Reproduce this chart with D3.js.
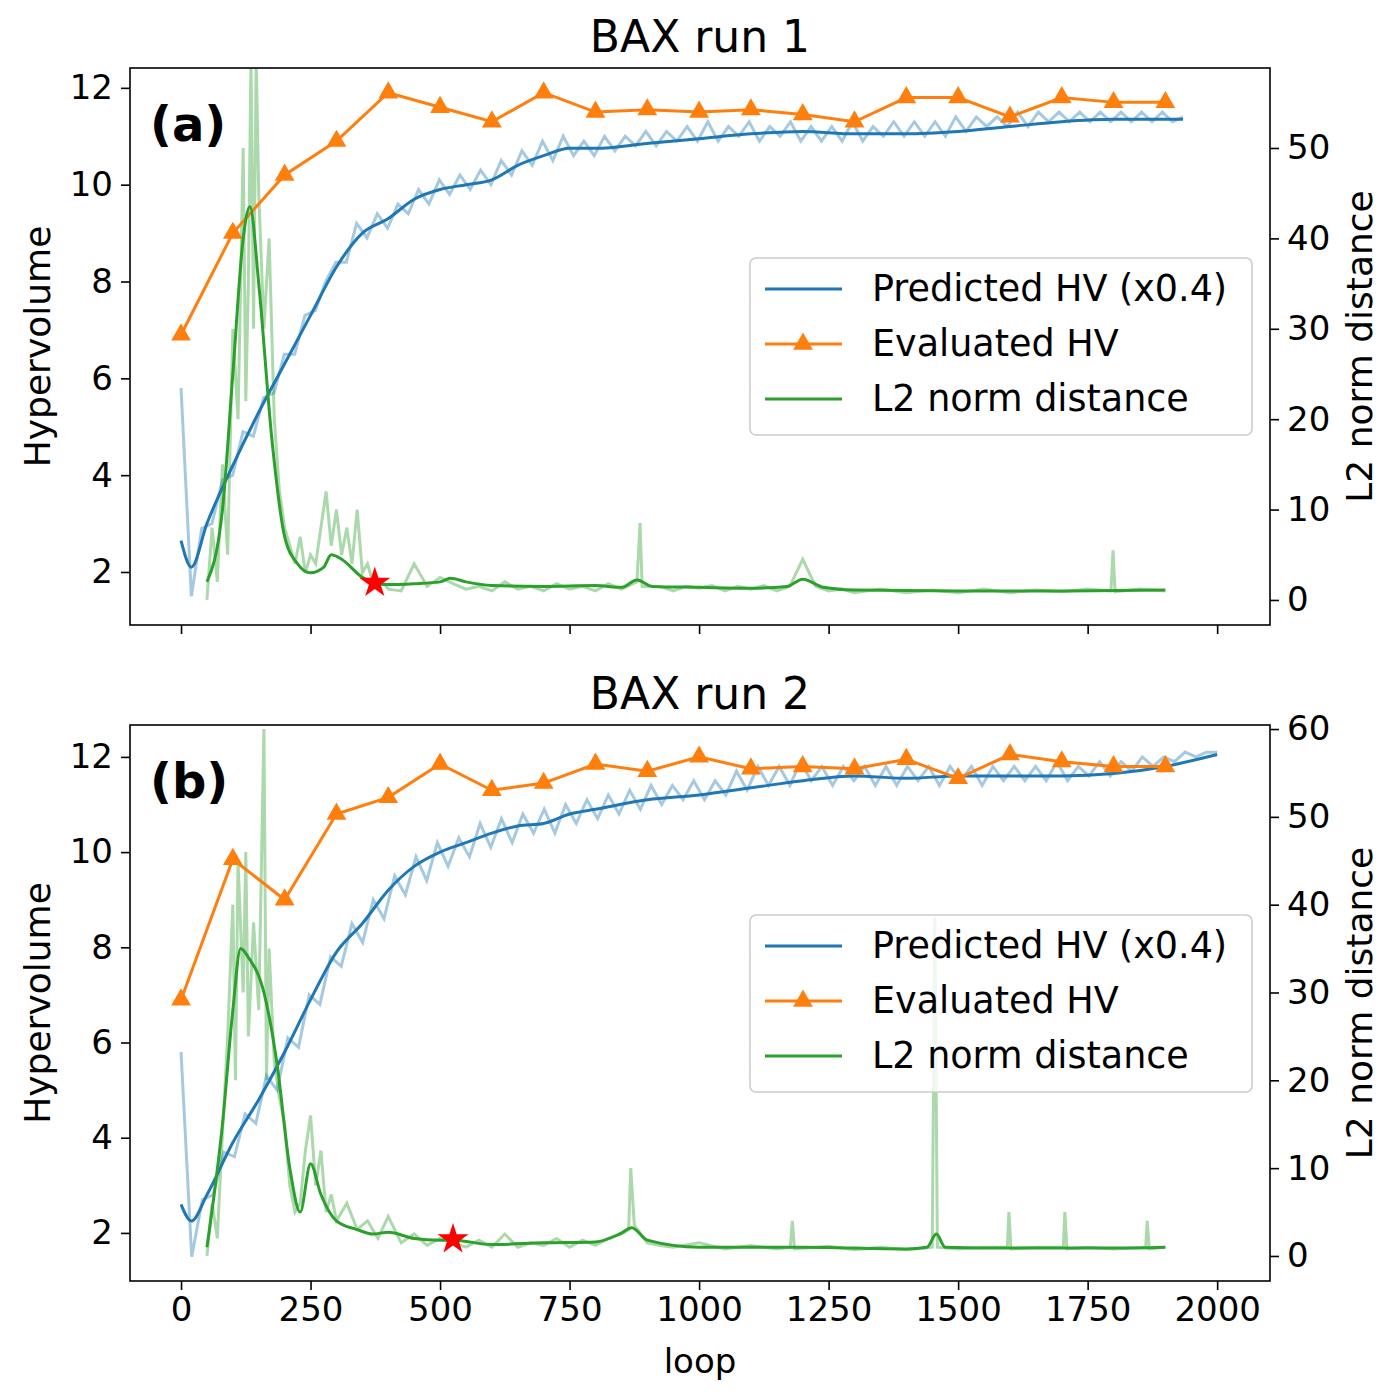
<!DOCTYPE html>
<html><head><meta charset="utf-8">
<script src="https://cdn.jsdelivr.net/npm/d3@7"></script>
<style>body{margin:0;background:#fff}text{font-family:"DejaVu Sans",sans-serif}</style>
</head><body><svg id="c" width="1399" height="1400"></svg>
<script>
// ---------- DATA ----------
const xTicks=[0,250,500,750,1000,1250,1500,1750,2000];
const leftTicks=[2,4,6,8,10,12];
const rightTicksA=[0,10,20,30,40,50];
const rightTicksB=[0,10,20,30,40,50,60];
const evalLoops=[0,100,200,300,400,500,600,700,800,900,1000,1100,1200,1300,1400,1500,1600,1700,1800,1900];
const evalA=[6.9,9.0,10.2,10.9,11.9,11.6,11.3,11.9,11.5,11.55,11.5,11.55,11.45,11.3,11.8,11.8,11.4,11.8,11.7,11.7];
const evalB=[6.9,9.85,9.0,10.8,11.15,11.85,11.3,11.45,11.85,11.7,12.0,11.75,11.8,11.75,11.95,11.55,12.05,11.9,11.8,11.8];
const predSmoothA=[[0,2.65],[20,2.1],[50,3.0],[100,4.2],[150,5.3],[200,6.3],[250,7.3],[300,8.3],[350,9.0],[400,9.3],[450,9.7],[500,9.9],[550,10.0],[600,10.1],[650,10.4],[700,10.6],[750,10.75],[800,10.75],[900,10.85],[1000,10.95],[1100,11.05],[1200,11.1],[1300,11.05],[1400,11.05],[1500,11.1],[1600,11.2],[1700,11.3],[1800,11.35],[1900,11.35],[1934,11.35]];
const predSmoothB=[[0,2.6],[20,2.25],[50,2.8],[100,3.9],[150,4.8],[200,5.8],[250,6.9],[300,7.9],[350,8.5],[400,9.2],[450,9.7],[500,10.0],[550,10.2],[600,10.4],[650,10.55],[700,10.6],[750,10.8],[800,10.9],[900,11.1],[1000,11.2],[1100,11.35],[1200,11.5],[1300,11.6],[1400,11.55],[1500,11.6],[1600,11.6],[1700,11.6],[1800,11.65],[1900,11.8],[2000,12.05]];
const predRawA=[5.8,1.5,2.9,3.0,3.9,4.0,4.9,4.8,5.6,5.7,6.5,6.5,7.3,7.4,8.0,8.4,8.4,9.2,8.9,9.4,9.1,9.6,9.4,9.9,9.6,10.1,9.8,10.2,9.9,10.3,10.0,10.5,10.2,10.7,10.4,10.9,10.5,11.0,10.6,10.9,10.6,11.0,10.7,11.0,10.8,11.1,10.8,11.1,10.9,11.2,10.9,11.3,10.9,11.2,11.0,11.3,10.9,11.2,11.0,11.3,10.9,11.2,10.9,11.2,10.9,11.3,10.9,11.2,11.0,11.3,11.0,11.3,11.0,11.3,11.0,11.4,11.1,11.4,11.2,11.4,11.2,11.5,11.2,11.5,11.3,11.5,11.3,11.5,11.3,11.5,11.3,11.5,11.3,11.5,11.3,11.5,11.3,11.4];
const predRawB=[5.8,1.5,2.7,2.8,3.7,3.6,4.5,4.3,5.3,5.0,6.1,5.9,7.0,6.8,7.8,7.6,8.5,8.1,9.0,8.6,9.5,9.1,9.9,9.4,10.2,9.7,10.3,9.9,10.6,10.1,10.7,10.2,10.8,10.4,10.9,10.4,11.0,10.6,11.1,10.7,11.2,10.8,11.3,10.9,11.4,11.0,11.4,11.1,11.5,11.1,11.5,11.2,11.7,11.3,11.8,11.4,11.8,11.4,11.9,11.5,11.8,11.4,11.8,11.5,11.8,11.4,11.8,11.4,11.8,11.5,11.8,11.4,11.8,11.5,11.8,11.4,11.8,11.5,11.8,11.5,11.8,11.5,11.9,11.5,11.8,11.6,11.9,11.6,11.9,11.7,12.0,11.8,12.0,11.9,12.1,12.0,12.1,12.1];
const l2SmoothA=[[50,2],[80,10],[100,25],[120,40],[133,43.5],[150,35],[175,18],[200,7],[225,4],[250,3],[275,3.6],[290,5],[310,4.5],[350,2.5],[380,1.8],[400,1.7],[450,1.8],[500,2.0],[520,2.4],[550,2.0],[600,1.6],[700,1.5],[800,1.6],[850,1.4],[880,2.2],[910,1.5],[1000,1.4],[1100,1.3],[1170,1.5],[1200,2.3],[1240,1.4],[1300,1.1],[1500,1.0],[1700,1.0],[1900,1.1]];
const l2RawA=[[50,0],[60,8],[70,2],[80,15],[90,5],[100,30],[110,20],[120,50],[125,22],[130,35],[135,60],[140,30],[145,60],[150,45],[160,30],[170,40],[180,20],[190,12],[200,8],[210,6],[220,4],[230,7],[240,3],[250,5],[260,4],[270,8],[280,12],[290,6],[300,10],[310,5],[320,8],[330,4],[340,10],[350,3],[360,4],[370,2],[380,1.5],[390,2],[400,1.2],[425,1.0],[450,4],[475,1.5],[500,2.5],[525,1.8],[550,1.2],[575,1.5],[600,1.0],[625,2],[650,1.2],[675,1.5],[700,1.0],[725,1.8],[750,1.2],[775,1.5],[800,1.0],[825,1.8],[850,1.2],[880,2],[886,8.5],[890,1.5],[925,1.5],[950,1.0],[975,1.5],[1000,1.3],[1025,1.6],[1050,1.0],[1075,1.5],[1100,1.2],[1125,1.6],[1150,1.0],[1175,1.5],[1200,4.5],[1225,1.5],[1250,1.0],[1275,1.2],[1300,0.8],[1350,1.2],[1400,0.8],[1450,1.1],[1500,0.8],[1550,1.2],[1600,0.8],[1650,1.1],[1700,0.9],[1750,1.2],[1795,1],[1799,5.5],[1803,0.9],[1850,1.2],[1900,1.0]];
const l2SmoothB=[[50,1],[80,15],[100,28],[115,35],[130,34],[160,30],[185,22],[210,10],[230,5],[250,10.5],[270,7],[300,4],[340,3],[370,2.5],[400,2.7],[450,2],[500,1.8],[525,1.8],[600,1.3],[700,1.5],[800,1.6],[850,2.6],[870,3.2],[900,1.8],[1000,1.0],[1200,1.0],[1400,0.8],[1440,1.0],[1458,2.5],[1475,1.0],[1600,0.9],[1800,0.9],[1900,1.0]];
const l2RawB=[[50,0],[60,6],[70,2],[80,14],[90,25],[100,40],[105,20],[110,45],[120,30],[125,46],[130,25],[140,38],[150,28],[160,60],[165,20],[170,35],[180,22],[190,18],[200,15],[210,8],[220,5],[230,6],[240,12],[250,16],[260,8],[270,12],[280,5],[290,7],[300,4],[320,6],[340,3],[360,4],[380,2],[400,4.5],[425,1.5],[450,2.5],[475,1.2],[500,2.0],[525,1.5],[550,1.0],[575,1.8],[600,1.0],[625,2.5],[650,1.0],[675,1.5],[700,1.2],[725,2.0],[750,1.0],[775,1.8],[800,1.2],[825,2],[850,2.5],[864,3],[868,10],[875,3.5],[900,1.5],[925,1.2],[950,1.0],[1000,1.5],[1050,0.8],[1100,1.2],[1150,0.8],[1176,1],[1180,4],[1184,0.8],[1250,1.1],[1300,0.7],[1350,1.0],[1400,0.7],[1450,1.0],[1455,38.5],[1460,1.0],[1500,0.8],[1550,1.0],[1595,1],[1598,5],[1602,0.8],[1650,1.0],[1703,1],[1706,5],[1710,0.8],[1750,1.0],[1800,0.8],[1862,1],[1865,4],[1869,0.8],[1900,1.0]];
const starA=[374,1.9], starB=[525,1.9];

// ---------- DRAW ----------
const svg=d3.select("#c");
const C={b:"#1f77b4",o:"#ff7f0e",g:"#2ca02c"};
const X0=130,X1=1270;
const x=d3.scaleLinear().domain([-98.5,2102]).range([X0,X1]);

function panel(top,bot,lDom,rDom,rTicks,evalV,pS,pR,gS,gR,star,title,label,showX){
  const yl=d3.scaleLinear().domain(lDom).range([bot,top]);
  const yr=d3.scaleLinear().domain(rDom).range([bot,top]);
  const g=svg.append("g");
  const cid="clip"+top;
  g.append("clipPath").attr("id",cid).append("rect").attr("x",X0).attr("y",top).attr("width",X1-X0).attr("height",bot-top);
  const pl=g.append("g").attr("clip-path",`url(#${cid})`);
  const rawLoops=pR.map((v,i)=>i*(pS[pS.length-1][0]/(pR.length-1)));
  pl.append("path").datum(pR.map((v,i)=>[rawLoops[i],v])).attr("d",d3.line().x(d=>x(d[0])).y(d=>yl(d[1]))).attr("fill","none").attr("stroke",C.b).attr("stroke-opacity",0.4).attr("stroke-width",3);
  pl.append("path").datum(gR).attr("d",d3.line().x(d=>x(d[0])).y(d=>yr(d[1]))).attr("fill","none").attr("stroke",C.g).attr("stroke-opacity",0.4).attr("stroke-width",3);
  pl.append("path").datum(pS).attr("d",d3.line().curve(d3.curveMonotoneX).x(d=>x(d[0])).y(d=>yl(d[1]))).attr("fill","none").attr("stroke",C.b).attr("stroke-width",3);
  pl.append("path").datum(evalLoops.map((l,i)=>[l,evalV[i]])).attr("d",d3.line().x(d=>x(d[0])).y(d=>yl(d[1]))).attr("fill","none").attr("stroke",C.o).attr("stroke-width",3);
  const tri=d3.symbol().type(d3.symbolTriangle).size(170);
  pl.selectAll(".t").data(evalLoops.map((l,i)=>[l,evalV[i]])).join("path").attr("d",tri).attr("transform",d=>`translate(${x(d[0])},${yl(d[1])})`).attr("fill",C.o);
  pl.append("path").datum(gS).attr("d",d3.line().curve(d3.curveMonotoneX).x(d=>x(d[0])).y(d=>yr(d[1]))).attr("fill","none").attr("stroke",C.g).attr("stroke-width",3);
  pl.append("path").attr("d",d3.symbol().type(d3.symbolStar).size(300)).attr("transform",`translate(${x(star[0])},${yr(star[1])})`).attr("fill","red");
  g.append("rect").attr("x",X0).attr("y",top).attr("width",X1-X0).attr("height",bot-top).attr("fill","none").attr("stroke","#000").attr("stroke-width",1.6);
  const fs="34px";
  const ax=g.append("g").attr("transform",`translate(0,${bot})`).call(d3.axisBottom(x).tickValues(xTicks).tickSize(9).tickPadding(7).tickFormat(showX?d3.format("d"):""));
  const al=g.append("g").attr("transform",`translate(${X0},0)`).call(d3.axisLeft(yl).tickValues(leftTicks).tickSize(9).tickPadding(8));
  const ar=g.append("g").attr("transform",`translate(${X1},0)`).call(d3.axisRight(yr).tickValues(rTicks).tickSize(9).tickPadding(8));
  [ax,al,ar].forEach(a=>{a.select(".domain").remove();a.selectAll("line").attr("stroke-width",1.6);a.selectAll("text").style("font-size",fs).attr("font-family","DejaVu Sans");});
  g.append("text").attr("x",700).attr("y",top-16).attr("text-anchor","middle").style("font-size","44px").text(title);
  g.append("text").attr("x",150).attr("y",top+73).style("font-size","48px").style("font-weight","bold").text(label);
  const mid=(top+bot)/2;
  g.append("text").attr("transform",`translate(50,${mid}) rotate(-90)`).attr("text-anchor","middle").style("font-size","36px").text("Hypervolume");
  g.append("text").attr("transform",`translate(1372,${mid}) rotate(-90)`).attr("text-anchor","middle").style("font-size","36px").text("L2 norm distance");
  const ly=top+190;
  const lg=g.append("g");
  lg.append("rect").attr("x",750).attr("y",ly).attr("width",502).attr("height",177).attr("rx",6).attr("fill","#fff").attr("fill-opacity",0.8).attr("stroke","#ccc").attr("stroke-width",1.6);
  const items=[["Predicted HV (x0.4)",C.b,false],["Evaluated HV",C.o,true],["L2 norm distance",C.g,false]];
  items.forEach((it,i)=>{const yy=ly+31+i*55;
    lg.append("line").attr("x1",765).attr("x2",842).attr("y1",yy).attr("y2",yy).attr("stroke",it[1]).attr("stroke-width",3);
    if(it[2]) lg.append("path").attr("d",tri).attr("transform",`translate(803,${yy})`).attr("fill",it[1]);
    lg.append("text").attr("x",872).attr("y",yy+12).style("font-size","36.5px").text(it[0]);});
}
panel(68,625,[0.905,12.41],[-2.77,58.85],rightTicksA,evalA,predSmoothA,predRawA,l2SmoothA,l2RawA,starA,"BAX run 1","(a)",false);
panel(725,1281,[0.99,12.67],[-2.85,60.46],rightTicksB,evalB,predSmoothB,predRawB,l2SmoothB,l2RawB,starB,"BAX run 2","(b)",true);
svg.append("text").attr("x",700).attr("y",1373).attr("text-anchor","middle").style("font-size","34px").text("loop");
</script></body></html>
